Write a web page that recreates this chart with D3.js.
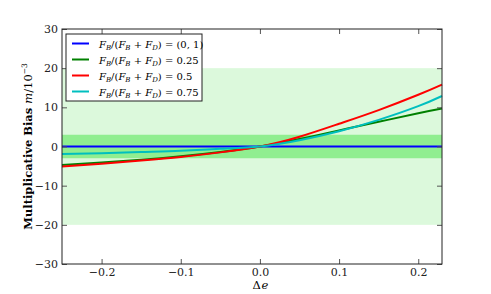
<!DOCTYPE html>
<html>
<head>
<meta charset="utf-8">
<script src="https://cdn.jsdelivr.net/npm/d3@7"></script>
<style>
  body { margin: 0; background: #fff; }
  svg text { font-family: "DejaVu Serif", serif; }
</style>
</head>
<body>
<div class="chart"></div>
<script>
// data
const dE = [-0.25, -0.2, -0.15, -0.1, -0.05, 0, 0.05, 0.1, 0.15, 0.2, 0.23];
const fracLabels = ["(0, 1)", "0.25", "0.5", "0.75"];
const biasBlue  = [0, 0, 0, 0, 0, 0, 0, 0, 0, 0, 0];
const biasGreen = [-4.7, -4.1, -3.4, -2.5, -1.4, 0, 1.9, 4.1, 6.3, 8.5, 9.7];
const biasRed   = [-5.1, -4.4, -3.6, -2.7, -1.5, 0, 2.5, 5.8, 9.3, 13.2, 15.8];
const biasCyan  = [-1.9, -1.7, -1.4, -1.1, -0.6, 0, 1.6, 3.9, 6.8, 10.3, 12.9];
const seriesColors = ["#0000ff", "#008000", "#ff0000", "#00bfbf"];
const xTicks = [-0.2, -0.1, 0.0, 0.1, 0.2];
const yTicks = [-30, -20, -10, 0, 10, 20, 30];
const outerBand = [-20, 20];
const innerBand = [-3, 3];

var margin = {top: 29, right: 49, bottom: 30, left: 62};
var width = 491 - margin.left - margin.right,
    height = 294 - margin.top - margin.bottom;

const svg = d3.select(".chart").append("svg")
    .attr("width", 491)
    .attr("height", 294)
    .append("g")
    .attr("transform", "translate(" + margin.left + "," + margin.top + ")");

const xScale = d3.scaleLinear().domain([-0.25, 0.23]).range([0, width]);
const yScale = d3.scaleLinear().domain([-30, 30]).range([height, 0]);

// bands
svg.append("rect")
    .attr("x", 0).attr("width", width)
    .attr("y", yScale(outerBand[1]))
    .attr("height", yScale(outerBand[0]) - yScale(outerBand[1]))
    .attr("fill", "#dcf9dc");
svg.append("rect")
    .attr("x", 0).attr("width", width)
    .attr("y", yScale(innerBand[1]))
    .attr("height", yScale(innerBand[0]) - yScale(innerBand[1]))
    .attr("fill", "#90ee90");

const allSeries = [biasBlue, biasGreen, biasRed, biasCyan];

const line = d3.line()
    .x((d, i) => xScale(dE[i]))
    .y(d => yScale(d))
    .curve(d3.curveNatural);

svg.selectAll(".series")
    .data(allSeries)
    .enter().append("path")
    .attr("class", "series")
    .attr("fill", "none")
    .attr("stroke", (d, i) => seriesColors[i])
    .attr("stroke-width", 2)
    .attr("d", line);

// axes, ticks point inward
const fmtX = d => d3.format(".1f")(d).replace("-", "\u2212");
const fmtY = d => String(d).replace("-", "\u2212");

const axes = [
    {ax: d3.axisBottom(xScale).tickValues(xTicks).tickFormat(fmtX), t: `translate(0,${height})`},
    {ax: d3.axisTop(xScale).tickValues(xTicks).tickFormat(""), t: "translate(0,0)"},
    {ax: d3.axisLeft(yScale).tickValues(yTicks).tickFormat(fmtY), t: "translate(0,0)"},
    {ax: d3.axisRight(yScale).tickValues(yTicks).tickFormat(""), t: `translate(${width},0)`}
];
axes.forEach(a => {
    const g = svg.append("g").attr("transform", a.t)
        .call(a.ax.tickSizeInner(-5).tickSizeOuter(0).tickPadding(4));
    g.attr("font-size", 11);
    g.select(".domain").remove();
    g.selectAll(".tick line").attr("stroke", "#555");
    g.selectAll("text").attr("fill", "#222");
});

svg.append("rect")
    .attr("width", width).attr("height", height)
    .attr("fill", "none").attr("stroke", "#222").attr("stroke-width", 1);

// axis labels
const x0 = xScale(0);
svg.append("text")
    .attr("x", x0 + 1).attr("y", height + 25)
    .attr("text-anchor", "end").attr("font-size", 11.5)
    .text("\u0394");
svg.append("text")
    .attr("x", x0 + 1.5).attr("y", height + 25)
    .attr("text-anchor", "start").attr("font-size", 11.5).attr("font-style", "italic")
    .text("e");

const yl = svg.append("text")
    .attr("transform", `translate(-30,${height / 2}) rotate(-90)`)
    .attr("text-anchor", "middle").attr("font-size", 11.5);
yl.append("tspan").attr("font-weight", "bold").text("Multiplicative Bias ");
yl.append("tspan").attr("font-style", "italic").text("m");
yl.append("tspan").text("/10");
yl.append("tspan").attr("font-size", 7.5).attr("dy", -5).text("\u22123");

// legend
const legend = svg.append("g").attr("transform", "translate(4,5)");
legend.append("rect")
    .attr("width", 136).attr("height", 67)
    .attr("fill", "#fff").attr("stroke", "#222").attr("stroke-width", 1);

fracLabels.forEach((lab, i) => {
    const y = 9.5 + i * 16;
    legend.append("line")
        .attr("x1", 6).attr("x2", 23).attr("y1", y).attr("y2", y)
        .attr("stroke", seriesColors[i]).attr("stroke-width", 2);
    const t = legend.append("text").attr("x", 33).attr("y", y + 4).attr("font-size", 10);
    t.append("tspan").attr("font-style", "italic").text("F");
    t.append("tspan").attr("font-style", "italic").attr("font-size", 7).attr("dy", 2.5).text("B");
    t.append("tspan").attr("dy", -2.5).text("/(");
    t.append("tspan").attr("font-style", "italic").text("F");
    t.append("tspan").attr("font-style", "italic").attr("font-size", 7).attr("dy", 2.5).text("B");
    t.append("tspan").attr("dy", -2.5).text(" + ");
    t.append("tspan").attr("font-style", "italic").text("F");
    t.append("tspan").attr("font-style", "italic").attr("font-size", 7).attr("dy", 2.5).text("D");
    t.append("tspan").attr("dy", -2.5).text(") = " + lab);
});
</script>
</body>
</html>
